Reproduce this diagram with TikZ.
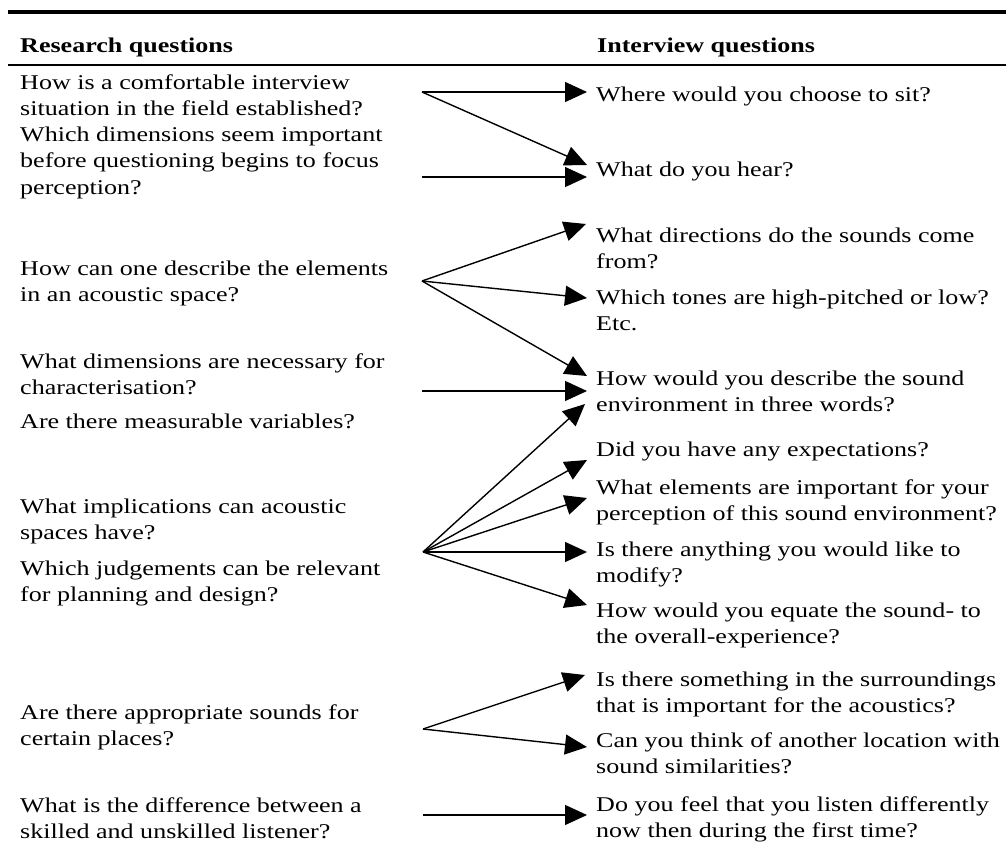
\documentclass[tikz,border=0pt]{standalone}
\usepackage{fontspec}
\setmainfont{Liberation Serif}[FakeStretch=1.24]
\usetikzlibrary{arrows.meta}
\newcommand\qfont{\fontsize{21}{26}\selectfont}
\begin{document}
\begin{tikzpicture}[x=1pt,y=-1pt,
  q/.style={anchor=base west, inner sep=0pt, align=left, font=\qfont},
  hd/.style={anchor=base west, inner sep=0pt, font=\qfont\bfseries},
  arr/.style={line width=1.4pt, -{Triangle[length=22pt,width=20pt]}},
  rulethick/.style={line width=4pt},
  rulethin/.style={line width=1.5pt}]
\useasboundingbox (0,0) rectangle (1006,845);
% rules
\coordinate (tl) at (8,12);  \coordinate (tr) at (1006,12);
\coordinate (ml) at (8,65);  \coordinate (mr) at (1006,65);
\draw[rulethick] (tl) -- (tr);
\draw[rulethin] (ml) -- (mr);
% headers
\node[hd] (hl) at (20,53) {Research questions};
\node[hd] (hr) at (597,53) {Interview questions};
% left column (positions = baseline of last line)
\node[q] (l1) at (20,116) {How is a comfortable interview\\situation in the field established?};
\node[q] (l2) at (20,194) {Which dimensions seem important\\before questioning begins to focus\\perception?};
\node[q] (l3) at (20,301) {How can one describe the elements\\in an acoustic space?};
\node[q] (l4) at (20,394) {What dimensions are necessary for\\characterisation?};
\node[q] (l5) at (20,428) {Are there measurable variables?};
\node[q] (l6) at (20,539) {What implications can acoustic\\spaces have?};
\node[q] (l7) at (20,601) {Which judgements can be relevant\\for planning and design?};
\node[q] (l8) at (20,745) {Are there appropriate sounds for\\certain places?};
\node[q] (l9) at (20,838) {What is the difference between a\\skilled and unskilled listener?};
% right column
\node[q] (r1) at (596,102) {Where would you choose to sit?};
\node[q] (r2) at (596,177) {What do you hear?};
\node[q] (r3) at (596,268) {What directions do the sounds come\\from?};
\node[q] (r4) at (596,330) {Which tones are high-pitched or low?\\Etc.};
\node[q] (r5) at (596,411) {How would you describe the sound\\environment in three words?};
\node[q] (r6) at (596,456) {Did you have any expectations?};
\node[q] (r7) at (596,520) {What elements are important for your\\perception of this sound environment?};
\node[q] (r8) at (596,582) {Is there anything you would like to\\modify?};
\node[q] (r9) at (596,643) {How would you equate the sound- to\\the overall-experience?};
\node[q] (r10) at (596,712) {Is there something in the surroundings\\that is important for the acoustics?};
\node[q] (r11) at (596,773) {Can you think of another location with\\sound similarities?};
\node[q] (r12) at (596,837) {Do you feel that you listen differently\\now then during the first time?};
% fan origins
\coordinate (o1) at (422,92);
\coordinate (o2) at (422,177);
\coordinate (o3) at (422,281);
\coordinate (o4) at (422,391);
\coordinate (o5) at (423,552);
\coordinate (o6) at (423,729);
\coordinate (o7) at (423,815);
% arrow tips
\coordinate (t1) at (587,92);
\coordinate (t2) at (587,165);
\coordinate (t3) at (587,177);
\coordinate (t4) at (586,224);
\coordinate (t5) at (587,298);
\coordinate (t6) at (587,376);
\coordinate (t7) at (587,391);
\coordinate (t8) at (585,404);
\coordinate (t9) at (587,460);
\coordinate (t10) at (587,498);
\coordinate (t11) at (587,552);
\coordinate (t12) at (587,605);
\coordinate (t13) at (585,675);
\coordinate (t14) at (587,747);
\coordinate (t15) at (587,815);
% connectors
\draw[arr] (o1) -- (t1);
\draw[arr] (o1) -- (t2);
\draw[arr] (o2) -- (t3);
\draw[arr] (o3) -- (t4);
\draw[arr] (o3) -- (t5);
\draw[arr] (o3) -- (t6);
\draw[arr] (o4) -- (t7);
\draw[arr] (o5) -- (t8);
\draw[arr] (o5) -- (t9);
\draw[arr] (o5) -- (t10);
\draw[arr] (o5) -- (t11);
\draw[arr] (o5) -- (t12);
\draw[arr] (o6) -- (t13);
\draw[arr] (o6) -- (t14);
\draw[arr] (o7) -- (t15);
\end{tikzpicture}
\end{document}
